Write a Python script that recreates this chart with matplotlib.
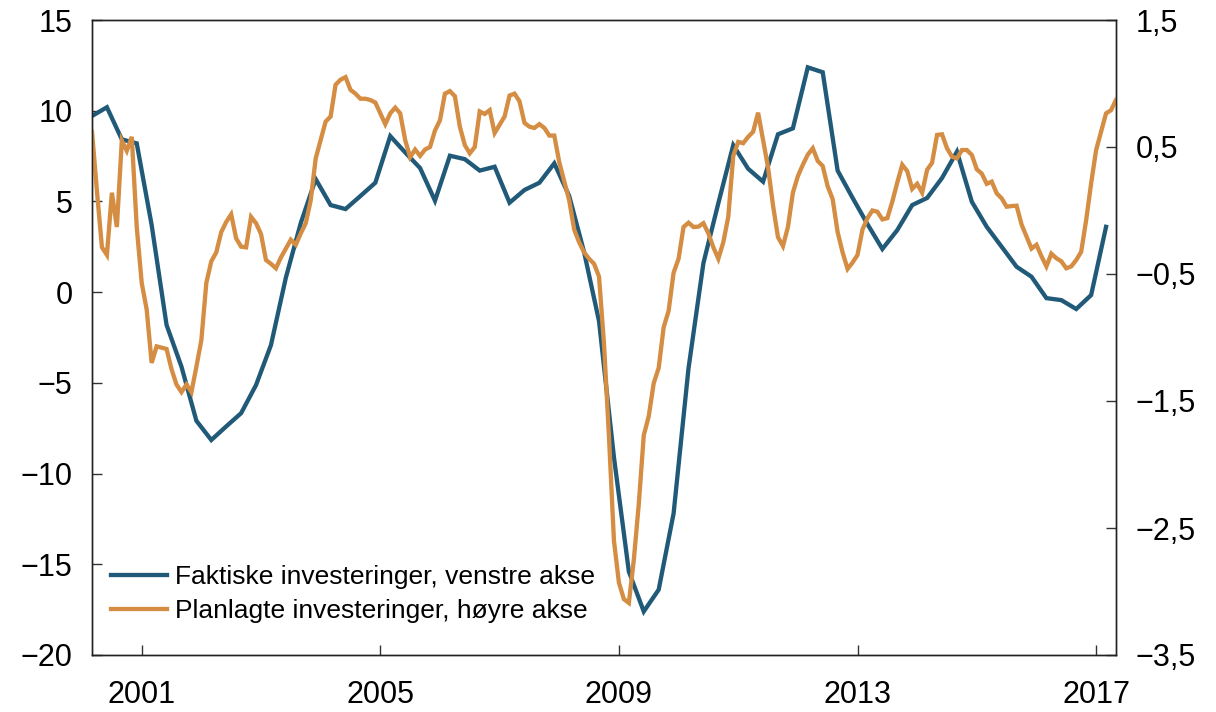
import matplotlib.pyplot as plt
import numpy as np

plt.rcParams['font.family'] = ['Liberation Sans', 'DejaVu Sans']

BLUE = "#215a78"
ORANGE = "#d48d42"

# quarterly, actual investments (left axis)
FAKTISKE = [
    9.71, 10.19, 8.42, 8.2, 3.7, -1.81, -4.11, -7.09, -8.15, -7.4,
    -6.67, -5.12, -2.92, 0.8, 3.81, 6.23, 4.8, 4.58, 5.3, 6.03,
    8.6, 7.7, 6.84, 5.04, 7.52, 7.33, 6.7, 6.91, 4.93, 5.63,
    6.03, 7.1, 5.3, 2.2, -1.6, -9.1, -15.4, -17.6, -16.4, -12.2,
    -4.2, 1.6, 4.9, 8.1, 6.8, 6.09, 8.7, 9.03, 12.39, 12.12,
    6.7, 5.2, 3.75, 2.38, 3.42, 4.8, 5.19, 6.29, 7.74, 4.98,
    3.6, 2.5, 1.4, 0.85, -0.33, -0.44, -0.93, -0.16, 3.6,
]

# monthly, planned investments (right axis)
PLANLAGTE = [
    0.62, 0.15, -0.29, -0.35, 0.14, -0.13, 0.55, 0.47, 0.58, -0.13,
    -0.57, -0.78, -1.2, -1.07, -1.08, -1.09, -1.25, -1.37, -1.43, -1.37,
    -1.43, -1.23, -1.02, -0.57, -0.4, -0.33, -0.17, -0.09, -0.03, -0.22,
    -0.285, -0.29, -0.05, -0.1, -0.185, -0.39, -0.42, -0.455, -0.37, -0.3,
    -0.23, -0.27, -0.18, -0.1, 0.08, 0.41, 0.555, 0.7, 0.74, 0.99,
    1.03, 1.05, 0.95, 0.92, 0.88, 0.88, 0.87, 0.85, 0.765, 0.68,
    0.765, 0.81, 0.765, 0.555, 0.42, 0.48, 0.43, 0.48, 0.5, 0.63,
    0.71, 0.92, 0.94, 0.9, 0.66, 0.515, 0.45, 0.5, 0.78, 0.76,
    0.79, 0.61, 0.675, 0.74, 0.905, 0.92, 0.86, 0.69, 0.66, 0.65,
    0.68, 0.65, 0.59, 0.59, 0.38, 0.23, 0.08, -0.15, -0.25, -0.33,
    -0.38, -0.42, -0.52, -1.05, -1.78, -2.6, -2.93, -3.06, -3.09, -2.75,
    -2.31, -1.77, -1.62, -1.36, -1.24, -0.92, -0.79, -0.49, -0.38, -0.13,
    -0.096, -0.13, -0.127, -0.1, -0.18, -0.29, -0.38, -0.25, -0.05, 0.43,
    0.54, 0.53, 0.58, 0.62, 0.77, 0.555, 0.34, 0.04, -0.21, -0.28,
    -0.13, 0.14, 0.27, 0.36, 0.44, 0.49, 0.39, 0.35, 0.19, 0.09,
    -0.17, -0.33, -0.46, -0.41, -0.35, -0.15, -0.06, 0.0, -0.01, -0.07,
    -0.06, 0.07, 0.22, 0.36, 0.31, 0.17, 0.21, 0.14, 0.32, 0.376,
    0.595, 0.6, 0.49, 0.424, 0.41, 0.476, 0.476, 0.437, 0.324, 0.29,
    0.21, 0.227, 0.135, 0.096, 0.03, 0.035, 0.038, -0.11, -0.206, -0.3,
    -0.27, -0.36, -0.44, -0.34, -0.376, -0.4, -0.455, -0.44, -0.39, -0.325,
    -0.075, 0.214, 0.476, 0.62, 0.765, 0.79, 0.87,
]

START = 2000 + 2 / 12
x_q = START + 0.25 * np.arange(len(FAKTISKE))
x_m = START + np.arange(len(PLANLAGTE)) / 12

YEARS = [2001, 2005, 2009, 2013, 2017]
LEFT_TICKS = [15, 10, 5, 0, -5, -10, -15, -20]
RIGHT_TICKS = [1.5, 0.5, -0.5, -1.5, -2.5, -3.5]

LABEL_F = "Faktiske investeringer, venstre akse"
LABEL_P = "Planlagte investeringer, høyre akse"

fig = plt.figure(figsize=(12.16, 7.12), dpi=100)
ax = fig.add_axes([92 / 1216, 1 - 655 / 712, 1024 / 1216, 635 / 712])
ax2 = ax.twinx()

l1, = ax.plot(x_q, FAKTISKE, color=BLUE, lw=3.1, solid_joinstyle="miter")
l2, = ax2.plot(x_m, PLANLAGTE, color=ORANGE, lw=3.1, solid_joinstyle="miter")

ax.set_xlim(START, 2017 + 4 / 12)
ax.set_ylim(-20, 15)
ax2.set_ylim(-3.5, 1.5)

ax.set_xticks(YEARS)
ax.set_xticklabels([str(y) for y in YEARS])
ax.set_yticks(LEFT_TICKS)
ax.set_yticklabels([str(v).replace("-", "\u2212") for v in LEFT_TICKS])
ax2.set_yticks(RIGHT_TICKS)
ax2.set_yticklabels([f"{v:.1f}".replace(".", ",").replace("-", "\u2212")
                     for v in RIGHT_TICKS])

ax.tick_params(axis="x", direction="in", length=7.5, width=1, pad=18,
               labelsize=22, colors="#333333", labelcolor="black")
ax.tick_params(axis="y", direction="in", length=7.5, width=1, pad=14,
               labelsize=22, colors="#333333", labelcolor="black")
ax2.tick_params(axis="y", direction="in", length=7.5, width=1, pad=14,
                labelsize=22, colors="#333333", labelcolor="black")

for a in (ax, ax2):
    for s in a.spines.values():
        s.set_linewidth(1)
        s.set_color("#222222")

ax2.legend([l1, l2], [LABEL_F, LABEL_P], loc="lower left",
           bbox_to_anchor=(0.019, 0.05), frameon=False, fontsize=19,
           handlelength=2.1, handletextpad=0.3, labelspacing=0.38,
           borderpad=0, borderaxespad=0)

fig.savefig("out.png", dpi=100)
